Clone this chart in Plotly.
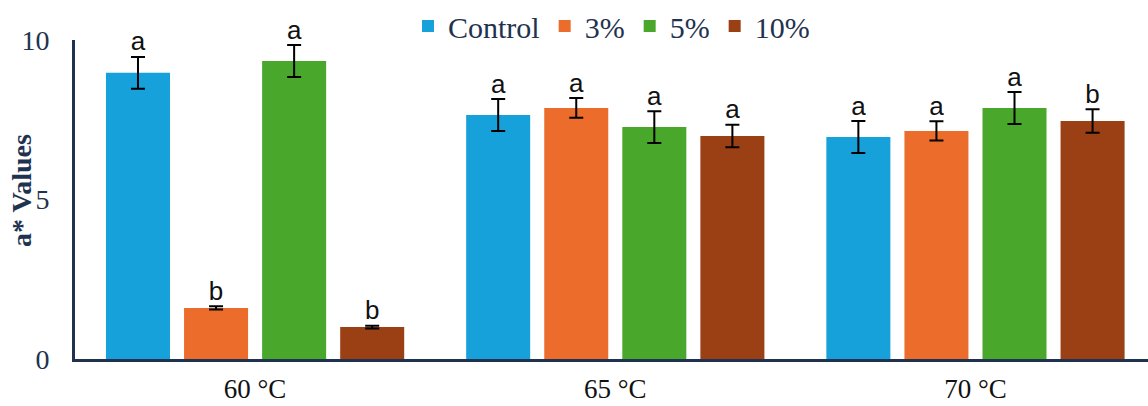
import plotly.graph_objects as go

categories = ["60 °C", "65 °C", "70 °C"]
series_names = ["Control", "3%", "5%", "10%"]
control = [8.97, 7.65, 6.96]
pct3 = [1.60, 7.87, 7.15]
pct5 = [9.34, 7.27, 7.87]
pct10 = [1.00, 6.99, 7.46]
control_err = [0.50, 0.50, 0.50]
pct3_err = [0.05, 0.31, 0.30]
pct5_err = [0.50, 0.50, 0.50]
pct10_err = [0.04, 0.35, 0.37]
control_letters = ["a", "a", "a"]
pct3_letters = ["b", "a", "a"]
pct5_letters = ["a", "a", "a"]
pct10_letters = ["b", "a", "b"]
y_ticks = [0, 5, 10]

values = [control, pct3, pct5, pct10]
errors = [control_err, pct3_err, pct5_err, pct10_err]
letters = [control_letters, pct3_letters, pct5_letters, pct10_letters]
colors = ["#16a1db", "#ec6d2b", "#49a72b", "#9b3f15"]

navy = "#1f3350"
serif = "Liberation Serif"
fig = go.Figure()
for i, name in enumerate(series_names):
    fig.add_trace(go.Bar(
        x=categories, y=values[i], name=name, offsetgroup=str(i),
        marker=dict(color=colors[i], line=dict(width=0)),
        error_y=dict(type="data", array=errors[i], color="#000000",
                     thickness=2, width=7),
    ))
for i, name in enumerate(series_names):
    fig.add_trace(go.Scatter(
        x=categories, y=[v + e for v, e in zip(values[i], errors[i])],
        mode="text", text=letters[i], textposition="top center",
        offsetgroup=str(i), showlegend=False, cliponaxis=False,
        textfont=dict(family="Liberation Sans", size=26, color="#111111"),
        hoverinfo="skip",
    ))

fig.update_layout(
    width=1148, height=406,
    margin=dict(l=75, r=0, t=40, b=47, autoexpand=False),
    paper_bgcolor="white", plot_bgcolor="white",
    barmode="group", bargap=0.133, bargroupgap=0.18,
    scattermode="group", scattergap=0.133,
    font=dict(family=serif, color=navy),
    showlegend=True,
    legend=dict(orientation="h", x=0.5, xanchor="center", y=1.0,
                yref="container", yanchor="top",
                font=dict(family=serif, size=30, color=navy), itemwidth=30,
                traceorder="normal", bgcolor="rgba(0,0,0,0)"),
    xaxis=dict(range=[-0.5, 2.479], showgrid=False, zeroline=False,
               showline=True, linecolor=navy, linewidth=3, ticks="",
               automargin=False,
               tickfont=dict(family=serif, size=27, color="#111111"),
               ticklabelstandoff=4),
    yaxis=dict(range=[0, 10], tickvals=y_ticks, showgrid=False, zeroline=False,
               showline=True, linecolor=navy, linewidth=3, ticks="",
               automargin=False,
               tickfont=dict(family=serif, size=28, color=navy),
               ticklabelstandoff=17),
    annotations=[dict(text="<b>a* Values</b>", textangle=-90, xref="paper",
                      yref="paper", x=(21 - 75) / 1073, y=(359 - 191) / 319,
                      xanchor="center", yanchor="middle", showarrow=False,
                      font=dict(size=28, color=navy, family=serif))],
)

fig.write_html("out.html", config={"displayModeBar": False},
               post_script="document.body.style.margin='0';"
                           "document.body.style.overflow='hidden';")
